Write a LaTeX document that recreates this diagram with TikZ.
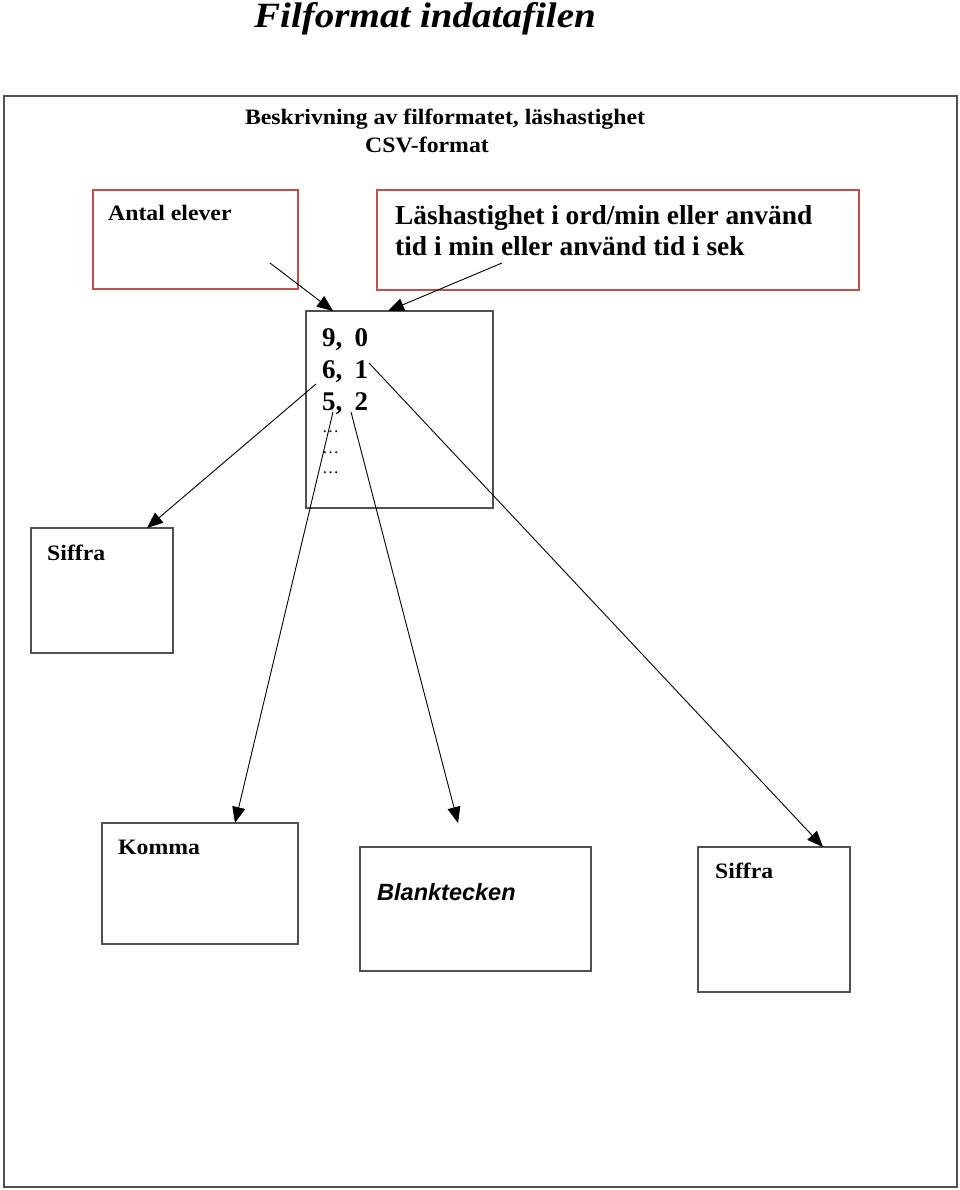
\documentclass[tikz,border=0pt]{standalone}
\usepackage{fontspec}
\setmainfont{Liberation Serif}
\newfontfamily\arialfont{Liberation Sans}
\newfontfamily\wideserif[FakeStretch=1.08]{Liberation Serif}
\newfontfamily\widetitle[FakeStretch=1.1]{Liberation Serif}
\usetikzlibrary{arrows.meta,calc}
\definecolor{boxred}{RGB}{192,80,77}
\definecolor{boxgray}{RGB}{80,80,80}
\tikzset{
  redbox/.style={draw=boxred,line width=1.3pt,inner sep=0pt,outer sep=0pt,anchor=north west},
  graybox/.style={draw=boxgray,line width=1.3pt,inner sep=0pt,outer sep=0pt,anchor=north west},
  lbl/.style={anchor=base west,inner sep=0pt,font=\wideserif\bfseries\fontsize{22}{26}\selectfont},
  bigl/.style={anchor=base west,inner sep=0pt,font=\bfseries\fontsize{27.4}{30}\selectfont},
  num/.style={anchor=base west,inner sep=0pt,font=\bfseries\fontsize{27}{32}\selectfont},
  dots/.style={anchor=base west,inner sep=0pt,font=\fontsize{17}{18}\selectfont},
  arr/.style={-{Triangle[length=16pt,width=13pt]},line width=0.9pt}
}
\begin{document}
\begin{tikzpicture}[x=1pt,y=-1pt]
\useasboundingbox (0,0) rectangle (960,1190);
\fill[white] (0,0) rectangle (960,1190);
% title
\node[anchor=base,inner sep=0pt,font=\widetitle\bfseries\itshape\fontsize{35.5}{40}\selectfont] (title) at (425,28) {Filformat indatafilen};
% outer frame
\node[graybox,line width=1.6pt,minimum width=953,minimum height=1091] (frame) at (4,96) {};
% subtitle
\node[anchor=base,inner sep=0pt,font=\wideserif\bfseries\fontsize{22}{26}\selectfont] (sub1) at (445,125) {Beskrivning av filformatet, läshastighet};
\node[anchor=base,inner sep=0pt,font=\wideserif\bfseries\fontsize{22}{26}\selectfont] (sub2) at (427,153) {CSV-format};
% red boxes
\node[redbox,minimum width=205,minimum height=99] (antal) at (93,190) {};
\node[lbl] (antalt) at (108,221) {Antal elever};
\node[redbox,minimum width=482,minimum height=100] (las) at (377,190) {};
\node[bigl] (last1) at (395,225) {Läshastighet i ord/min eller använd};
\node[bigl] (last2) at (395,255) {tid i min eller använd tid i sek};
% data box
\node[graybox,minimum width=187,minimum height=197] (data) at (306,311) {};
\node[num] (r1) at (322,346) {9,\hspace{0.45em}0};
\node[num] (r2) at (322,378) {6,\hspace{0.45em}1};
\node[num] (r3) at (322,410) {5,\hspace{0.45em}2};
\node[dots] (d1) at (322,432) {…};
\node[dots] (d2) at (322,453) {…};
\node[dots] (d3) at (322,473) {…};
% lower boxes
\node[graybox,minimum width=142,minimum height=125] (sifl) at (31,528) {};
\node[lbl] (siflt) at (47,560) {Siffra};
\node[graybox,minimum width=196,minimum height=121] (komma) at (102,823) {};
\node[lbl] (kommat) at (118,854) {Komma};
\node[graybox,minimum width=231,minimum height=124] (blank) at (360,847) {};
\node[anchor=base west,inner sep=0pt,font=\arialfont\bfseries\itshape\fontsize{23.5}{27}\selectfont] (blankt) at (377,900) {Blanktecken};
\node[graybox,minimum width=152,minimum height=145] (sifr) at (698,847) {};
\node[lbl] (sifrt) at (715,878) {Siffra};
% arrow start points
\coordinate (sA) at (270,263);
\coordinate (sL) at (502,263);
\coordinate (s6) at (316,384);
\coordinate (s5) at (333,412);
\coordinate (s5b) at (351,412);
\coordinate (s1) at (369,363);
% arrows
\draw[arr] (sA) -- ($(data.north west)+(27,0)$);
\draw[arr] (sL) -- ($(data.north west)+(82,0)$);
\draw[arr] (s6) -- ($(sifl.north west)+(116,0)$);
\draw[arr] (s5) -- ($(komma.north west)+(133,0)$);
\draw[arr] (s5b) -- ($(blank.north west)+(98,-24)$);
\draw[arr] (s1) -- ($(sifr.north west)+(125,0)$);
\end{tikzpicture}
\end{document}
